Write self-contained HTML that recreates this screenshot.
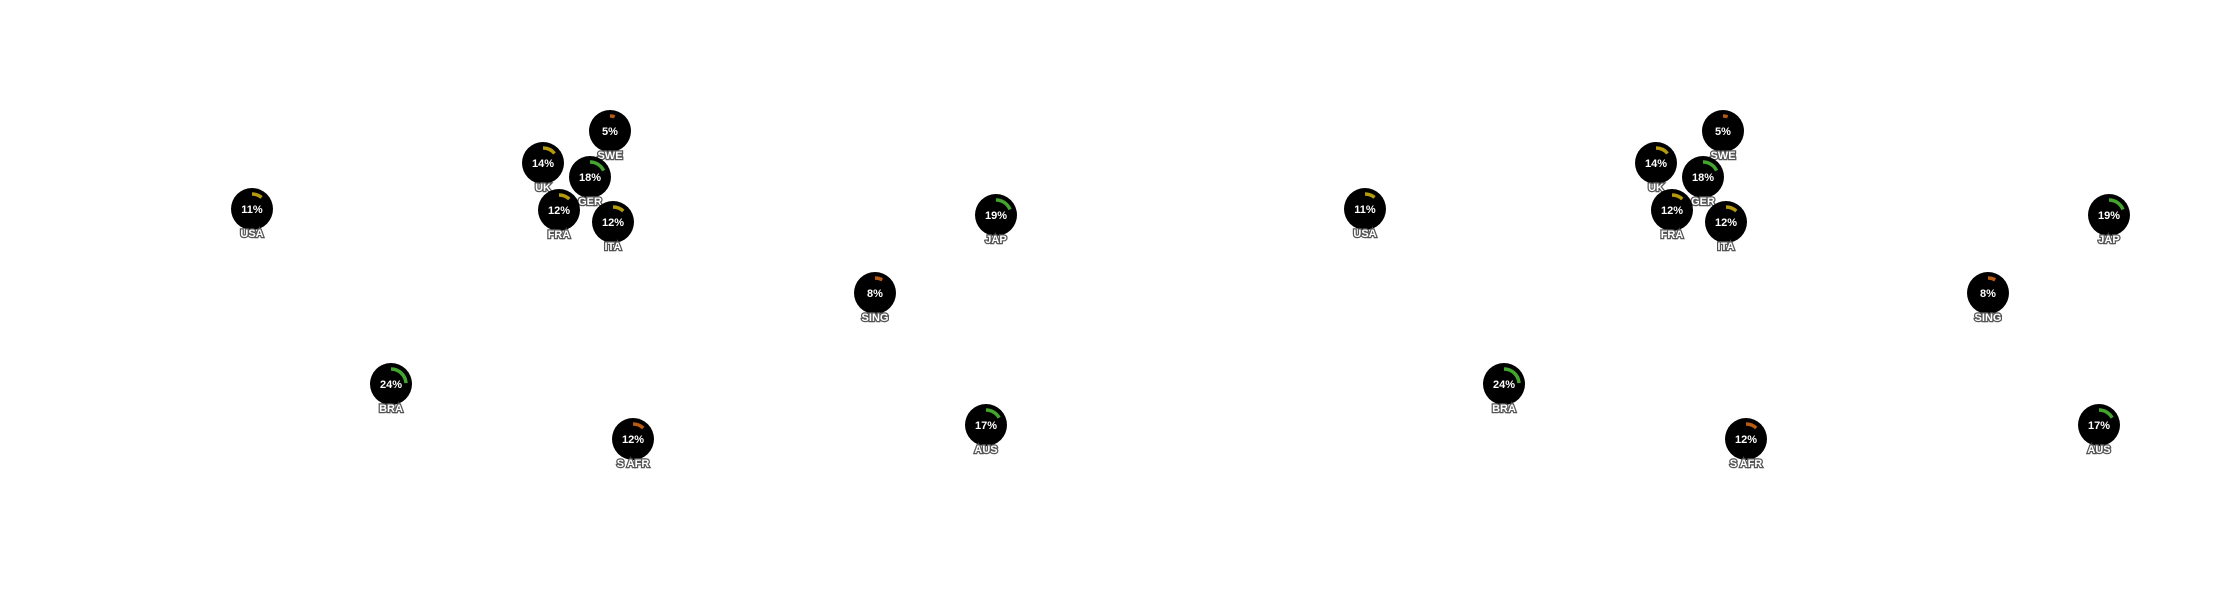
<!DOCTYPE html>
<html><head><meta charset="utf-8"><style>
html,body{margin:0;padding:0;background:#fff;}
svg{display:block;}
.p{font:bold 11px "Liberation Sans",sans-serif;fill:#fff;text-anchor:middle;}
.l{font:bold 11px "Liberation Sans",sans-serif;fill:#fff;text-anchor:middle;stroke:#555;stroke-width:2.5px;paint-order:stroke;}
.y{stroke:#b59a0c;}.g{stroke:#43a52e;}.o{stroke:#b85a10;}
path{fill:none;stroke-width:3.5;}
</style></head><body>
<svg width="2223" height="600" viewBox="0 0 2223 600" xmlns="http://www.w3.org/2000/svg">
<defs>
<g id="m">
<g transform="translate(252,209)"><circle r="21"/><path class="y" d="M0,-15 A15,15 0 0 1 9.56,-11.55"/><text class="p" y="4">11%</text><text class="l" y="28">USA</text></g>
<g transform="translate(543,163)"><circle r="21"/><path class="y" d="M0,-15 A15,15 0 0 1 11.56,-9.57"/><text class="p" y="4">14%</text><text class="l" y="28">UK</text></g>
<g transform="translate(610,131)"><circle r="21"/><path class="o" d="M0,-15 A15,15 0 0 1 4.64,-14.27"/><text class="p" y="4">5%</text><text class="l" y="28">SWE</text></g>
<g transform="translate(590,177)"><circle r="21"/><path class="g" d="M0,-15 A15,15 0 0 1 13.57,-6.39"/><text class="p" y="4">18%</text><text class="l" y="28">GER</text></g>
<g transform="translate(559,210)"><circle r="21"/><path class="y" d="M0,-15 A15,15 0 0 1 10.27,-10.93"/><text class="p" y="4">12%</text><text class="l" y="28">FRA</text></g>
<g transform="translate(613,222)"><circle r="21"/><path class="y" d="M0,-15 A15,15 0 0 1 10.27,-10.93"/><text class="p" y="4">12%</text><text class="l" y="28">ITA</text></g>
<g transform="translate(996,215)"><circle r="21"/><path class="g" d="M0,-15 A15,15 0 0 1 13.95,-5.52"/><text class="p" y="4">19%</text><text class="l" y="28">JAP</text></g>
<g transform="translate(875,293)"><circle r="21"/><path class="o" d="M0,-15 A15,15 0 0 1 7.23,-13.14"/><text class="p" y="4">8%</text><text class="l" y="28">SING</text></g>
<g transform="translate(391,384)"><circle r="21"/><path class="g" d="M0,-15 A15,15 0 0 1 14.97,-0.94"/><text class="p" y="4">24%</text><text class="l" y="28">BRA</text></g>
<g transform="translate(633,439)"><circle r="21"/><path class="o" d="M0,-15 A15,15 0 0 1 10.27,-10.93"/><text class="p" y="4">12%</text><text class="l" y="28">S AFR</text></g>
<g transform="translate(986,425)"><circle r="21"/><path class="g" d="M0,-15 A15,15 0 0 1 13.14,-7.23"/><text class="p" y="4">17%</text><text class="l" y="28">AUS</text></g>
</g>
</defs>
<use href="#m"/>
<use href="#m" x="1113"/>
</svg>
</body></html>
